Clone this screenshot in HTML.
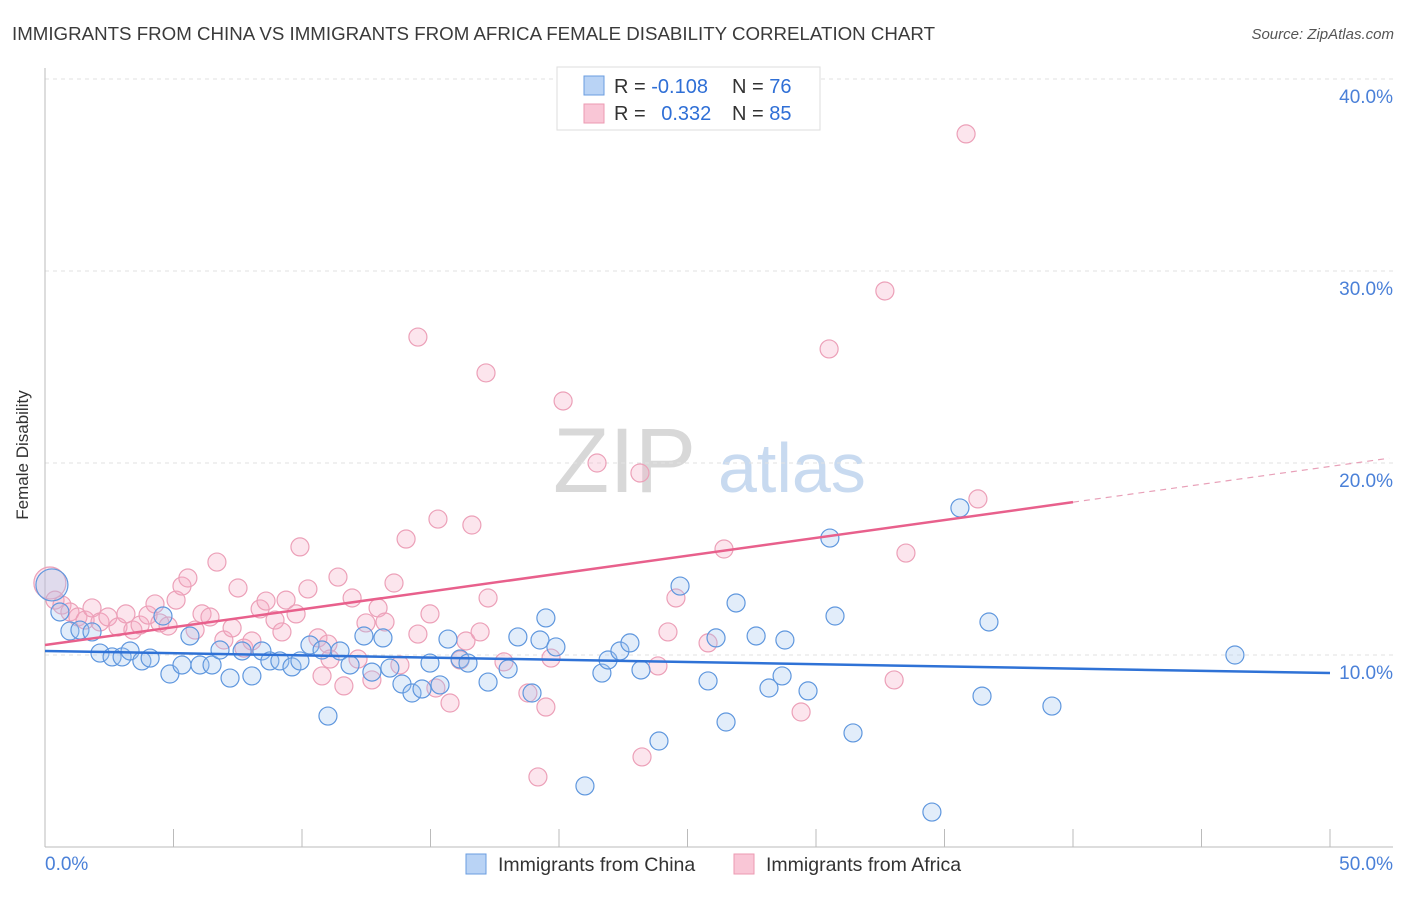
<!DOCTYPE html>
<html><head><meta charset="utf-8"><style>
body{margin:0;background:#fff;font-family:"Liberation Sans",sans-serif}
svg text{font-family:"Liberation Sans",sans-serif}
</style></head><body>
<svg width="1406" height="892" id="chart">
<text x="12" y="40" font-size="18" fill="#3a3a3a" textLength="923" lengthAdjust="spacingAndGlyphs">IMMIGRANTS FROM CHINA VS IMMIGRANTS FROM AFRICA FEMALE DISABILITY CORRELATION CHART</text>
<text x="1394" y="39" font-size="15" fill="#555" font-style="italic" text-anchor="end">Source: ZipAtlas.com</text>
<g>
<text x="553" y="492" font-size="92" fill="#d8d8d8" font-family="Liberation Serif">ZIP</text>
<text x="718" y="492" font-size="70" fill="#c8daf0">atlas</text>
</g>
<g id="grid"></g>
<g id="axes"></g>
<g id="marks"></g>
<text x="28" y="455" font-size="17" fill="#333" text-anchor="middle" transform="rotate(-90 28 455)">Female Disability</text>
<g>
<rect x="557" y="67" width="263" height="63" fill="#fff" stroke="#ddd"/>
<rect x="584" y="76" width="20" height="19" fill="#b9d3f5" stroke="#6a9de0"/>
<rect x="584" y="104" width="20" height="19" fill="#f9c6d6" stroke="#ec9ab2"/>
<text x="614" y="93" font-size="20" fill="#333">R = <tspan fill="#2f6fd6">-0.108</tspan></text>
<text x="732" y="93" font-size="20" fill="#333">N = <tspan fill="#2f6fd6">76</tspan></text>
<text x="614" y="120" font-size="20" fill="#333">R = <tspan fill="#2f6fd6" dx="10">0.332</tspan></text>
<text x="732" y="120" font-size="20" fill="#333">N = <tspan fill="#2f6fd6">85</tspan></text>
</g>
<g>
<rect x="466" y="854" width="20" height="20" fill="#b9d3f5" stroke="#6a9de0"/>
<text x="498" y="871" font-size="19.5" fill="#333">Immigrants from China</text>
<rect x="734" y="854" width="20" height="20" fill="#f9c6d6" stroke="#ec9ab2"/>
<text x="766" y="871" font-size="19.5" fill="#333">Immigrants from Africa</text>
</g>
</svg>
<script>
const yTicks=[10,20,30,40];
const yTickLabels=["10.0%","20.0%","30.0%","40.0%"];
const xEndLabels=["0.0%","50.0%"];
const chinaX=[0.27,0.58,0.97,1.36,1.83,2.14,2.61,3.0,3.31,3.77,4.09,4.59,4.86,5.33,5.64,6.03,6.5,6.81,7.2,7.67,8.05,8.44,8.75,9.14,9.61,9.92,10.31,10.78,11.01,11.48,11.87,12.41,12.72,13.15,13.42,13.89,14.28,14.67,14.98,15.37,15.68,16.15,16.46,17.24,18.02,18.4,18.95,19.26,19.49,19.88,21.01,21.67,21.91,22.37,22.76,23.19,23.89,24.71,25.8,26.11,26.5,26.89,27.67,28.17,28.79,28.68,29.69,30.54,30.74,31.44,34.51,35.6,36.46,36.73,39.18,46.3];
const chinaY=[13.65,12.24,11.25,11.3,11.2,10.1,9.9,9.9,10.21,9.69,9.84,12.03,9.01,9.48,10.99,9.48,9.48,10.26,8.8,10.21,8.91,10.21,9.69,9.69,9.38,9.69,10.52,10.26,6.82,10.21,9.48,10.99,9.11,10.89,9.32,8.49,8.02,8.23,9.58,8.44,10.83,9.79,9.58,8.59,9.27,10.94,8.02,10.78,11.93,10.42,3.18,9.06,9.74,10.21,10.63,9.22,5.52,13.59,8.65,10.89,6.51,12.71,10.99,8.28,10.78,8.91,8.13,16.09,12.03,5.94,1.82,17.66,7.86,11.72,7.34,10.0];
const africaX=[0.19,0.39,0.66,0.97,1.28,1.56,1.83,2.14,2.45,2.84,3.15,3.42,3.7,4.01,4.28,4.47,4.79,5.1,5.33,5.56,5.84,6.11,6.42,6.69,6.96,7.28,7.51,7.74,8.05,8.37,8.6,8.95,9.22,9.38,9.77,9.92,10.23,10.62,10.78,11.01,11.09,11.4,11.63,11.95,12.18,12.49,12.72,12.96,13.23,13.58,13.81,14.05,14.51,14.51,14.98,15.21,15.29,15.76,16.15,16.38,16.61,16.93,17.16,17.24,17.86,18.79,19.18,19.49,19.69,20.16,21.48,23.15,23.23,23.85,24.24,24.55,25.8,26.42,29.42,30.51,32.68,33.04,33.5,35.84,36.3];
const africaY=[13.75,12.86,12.6,12.24,11.98,11.82,12.45,11.72,11.98,11.46,12.14,11.3,11.56,12.08,12.66,11.67,11.51,12.86,13.59,14.01,11.3,12.14,11.98,14.84,10.78,11.41,13.49,10.36,10.73,12.4,12.81,11.82,11.2,12.86,12.14,15.63,13.44,10.89,8.91,10.57,9.79,14.06,8.39,12.97,9.79,11.67,8.7,12.45,11.72,13.75,9.48,16.04,26.56,11.09,12.14,8.28,17.08,7.5,9.74,10.73,16.77,11.2,24.69,12.97,9.64,8.02,3.65,7.29,9.84,23.23,20.0,19.48,4.69,9.43,11.2,12.97,10.63,15.52,7.03,25.94,28.96,8.7,15.31,37.14,18.13];
const chinaTrend=[10.21,9.06];
const africaTrend=[10.52,0.186];
const X=v=>45+v*25.7, Y=v=>847-v*19.2;
const NS="http://www.w3.org/2000/svg";
function mk(parent,tag,attrs){const e=document.createElementNS(NS,tag);for(const k in attrs)e.setAttribute(k,attrs[k]);document.getElementById(parent).appendChild(e);return e;}
yTicks.forEach((t,i)=>{
 const g=mk('grid','line',{x1:45,x2:1393,y1:Y(t),y2:Y(t),stroke:'#e2e2e2','stroke-dasharray':'4,4'});
 
 
 const l=mk('grid','text',{x:1393,y:Y(t)+24,'font-size':19,fill:'#4a80d8','text-anchor':'end'});
 l.textContent=yTickLabels[i];
 
 
});
const ax=mk('axes','line',{x1:45,x2:1393,y1:847,y2:847,stroke:'#bbb'});


const ay=mk('axes','line',{x1:45,x2:45,y1:68,y2:847,stroke:'#bbb'});


for(let v=0;v<=50;v+=5){const t=mk('axes','line',{x1:X(v),x2:X(v),y1:829,y2:847,stroke:'#bbb'});
 
 }
const xl0=mk('axes','text',{x:45,y:870,'font-size':19,fill:'#4a80d8'});xl0.textContent=xEndLabels[0];


const xl1=mk('axes','text',{x:1393,y:870,'font-size':19,fill:'#4a80d8','text-anchor':'end'});xl1.textContent=xEndLabels[1];


function pts(xs,ys,fill,stroke,name){xs.forEach((x,i)=>{
 const c=mk('marks','circle',{cx:X(x),cy:Y(ys[i]),r:i===0?16:9,fill:fill,stroke:stroke,'stroke-width':1.2});
 
 });}
pts(africaX,africaY,'rgba(244,170,194,0.3)','#eca0b8','africa-point');
pts(chinaX,chinaY,'rgba(160,196,240,0.3)','#5f97de','china-point');
const bl=mk('marks','line',{x1:X(0),y1:Y(chinaTrend[0]),x2:X(50),y2:Y(chinaTrend[1]),stroke:'#2f72d6','stroke-width':2.5});


const pl=mk('marks','line',{x1:X(0),y1:Y(africaTrend[0]),x2:X(40),y2:Y(africaTrend[0]+40*africaTrend[1]),stroke:'#e8608c','stroke-width':2.5});


const pd=mk('marks','line',{x1:X(40),y1:Y(africaTrend[0]+40*africaTrend[1]),x2:X(52.3),y2:Y(africaTrend[0]+52.3*africaTrend[1]),stroke:'#e8a0b8','stroke-width':1.2,'stroke-dasharray':'6,5'});


</script>
</body></html>
